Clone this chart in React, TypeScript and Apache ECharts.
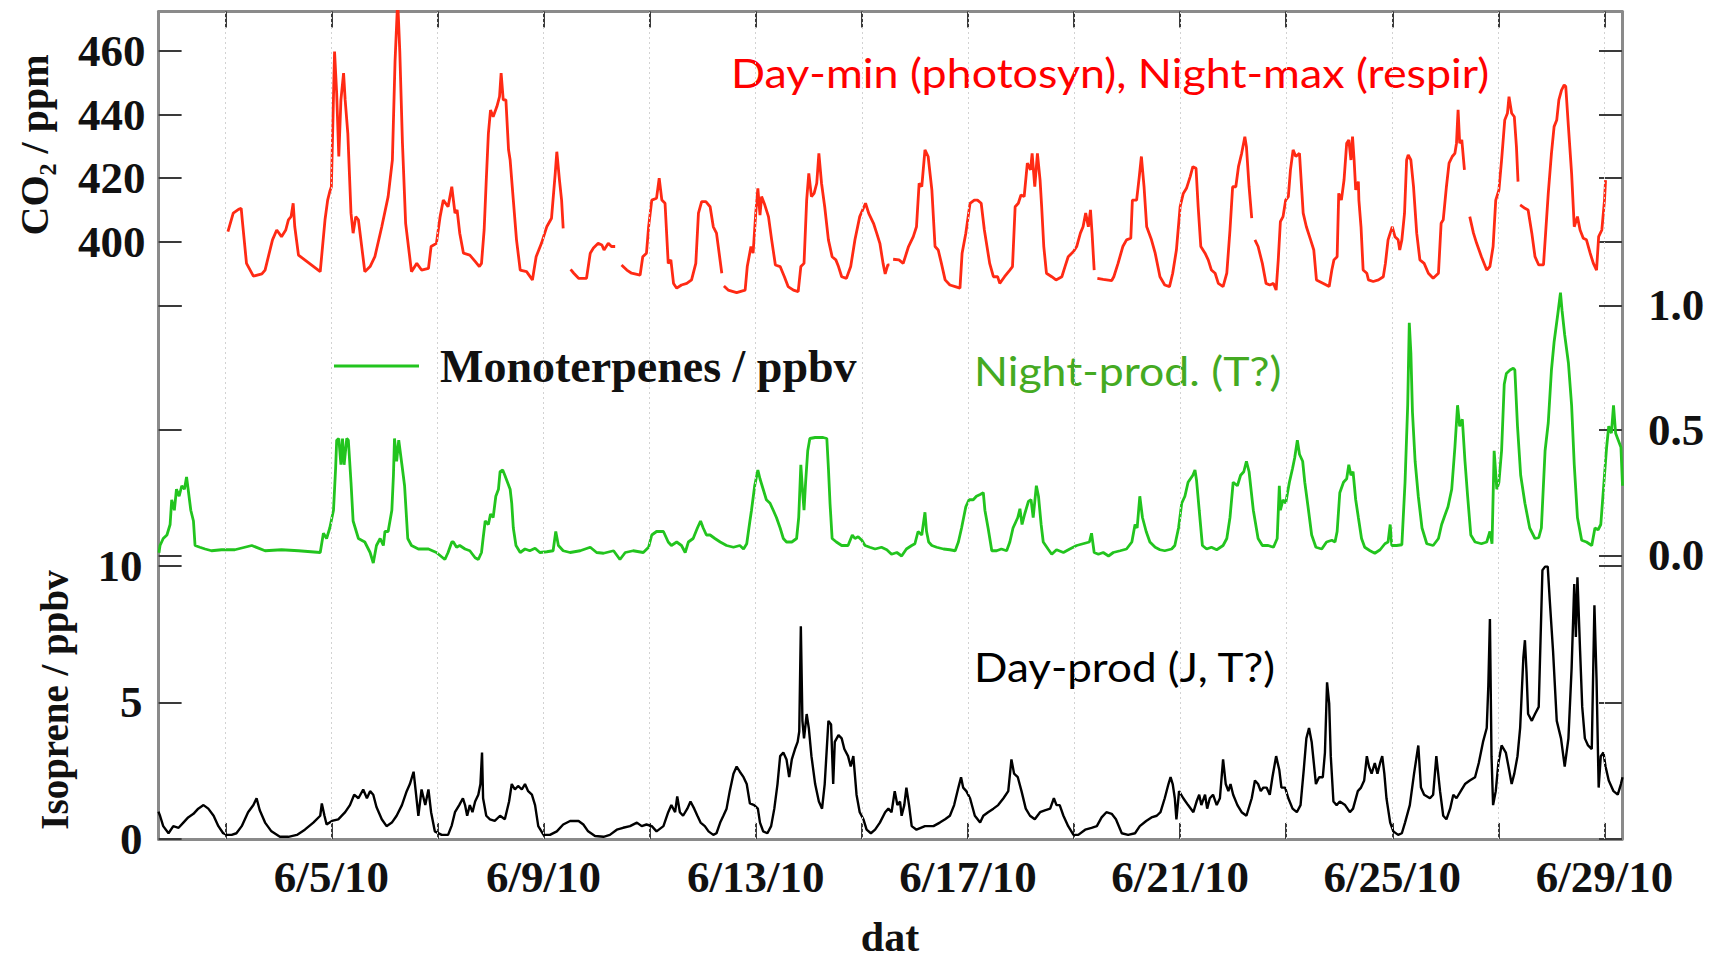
import { useEffect, useRef } from 'react';
import * as echarts from 'echarts';

// ---------- axis extents (day of June 2010, fractional) ----------
const xMinDay = 1.743;
const xMaxDay = 29.33;
const dayTicks = [3, 5, 7, 9, 11, 13, 15, 17, 19, 21, 23, 25, 27, 29];
const dayLabels = [5, 9, 13, 17, 21, 25, 29];

const co2Min = 212.2;
const co2Max = 472.4;
const co2TickValues = [380, 400, 420, 440, 460];
const co2LabelValues = [400, 420, 440, 460];

const monoMin = -1.135;
const monoMax = 2.175;
const monoTickValues = [0, 0.5, 1.0];

const isoMin = 0;
const isoMax = 30.26;
const isoTickValues = [0, 5, 10];

// ---------- CO2 / ppm (null = gap) ----------
const co2Days = [
  3.05, 3.15, 3.25, 3.30, 3.32, 3.40, 3.53, 3.69, 3.75, 3.89, 3.97, 4.06, 4.14, 4.19, 4.24, 4.28, 4.31, 4.38, 4.79, 4.88,
  4.93, 4.97, 5.00, 5.06, 5.10, 5.14, 5.18, 5.23, 5.26, 5.31, 5.37, 5.41, 5.46, 5.51, 5.63, 5.73, 5.82, 5.95, 6.07, 6.15,
  6.20, 6.25, 6.29, 6.34, 6.40, 6.51, 6.61, 6.70, 6.83, 6.88, 6.98, 7.05, 7.11, 7.20, 7.27, 7.33, 7.37, 7.42, 7.49, 7.61,
  7.71, 7.79, 7.83, 7.88, 7.92, 7.96, 8.00, 8.05, 8.12, 8.17, 8.20, 8.24, 8.29, 8.34, 8.37, 8.43, 8.49, 8.56, 8.68, 8.79,
  8.86, 8.96, 9.06, 9.15, 9.22, 9.25, 9.30, 9.34, 9.37, 9.44, 9.51, 9.57, 9.66, 9.81, 9.88, 9.94, 10.03, 10.10, 10.14, 10.22,
  10.28, 10.35, 10.41, 10.47, 10.57, 10.66, 10.82, 10.87, 10.94, 10.98, 11.04, 11.13, 11.18, 11.23, 11.29, 11.35, 11.40, 11.45, 11.51, 11.60,
  11.70, 11.79, 11.87, 11.92, 11.98, 12.06, 12.14, 12.20, 12.26, 12.36, 12.38, 12.40, 12.48, 12.64, 12.80, 12.84, 12.91, 12.95, 13.00, 13.04,
  13.08, 13.11, 13.17, 13.24, 13.30, 13.37, 13.46, 13.54, 13.61, 13.71, 13.80, 13.85, 13.91, 13.96, 14.00, 14.05, 14.10, 14.15, 14.19, 14.24,
  14.30, 14.37, 14.44, 14.51, 14.56, 14.62, 14.71, 14.79, 14.87, 14.96, 15.07, 15.13, 15.22, 15.28, 15.34, 15.40, 15.44, 15.49, 15.52, 15.55,
  15.59, 15.70, 15.78, 15.88, 15.97, 16.03, 16.08, 16.13, 16.19, 16.25, 16.32, 16.38, 16.44, 16.50, 16.57, 16.66, 16.76, 16.85, 16.89, 16.96,
  17.04, 17.12, 17.18, 17.25, 17.31, 17.41, 17.48, 17.56, 17.60, 17.69, 17.79, 17.84, 17.89, 17.95, 18.00, 18.06, 18.12, 18.18, 18.21, 18.26,
  18.31, 18.36, 18.39, 18.43, 18.48, 18.58, 18.66, 18.77, 18.83, 18.89, 18.99, 19.05, 19.12, 19.17, 19.22, 19.27, 19.31, 19.34, 19.38, 19.41,
  19.44, 19.55, 19.71, 19.75, 19.83, 19.92, 19.99, 20.07, 20.10, 20.18, 20.23, 20.27, 20.32, 20.37, 20.46, 20.53, 20.62, 20.71, 20.80, 20.86,
  20.93, 21.00, 21.06, 21.12, 21.19, 21.24, 21.30, 21.34, 21.39, 21.47, 21.53, 21.59, 21.66, 21.72, 21.81, 21.88, 21.94, 21.99, 22.05, 22.10,
  22.16, 22.22, 22.25, 22.30, 22.35, 22.38, 22.41, 22.47, 22.55, 22.62, 22.69, 22.76, 22.81, 22.85, 22.89, 22.94, 22.99, 23.04, 23.08, 23.13,
  23.18, 23.25, 23.32, 23.38, 23.46, 23.52, 23.57, 23.70, 23.81, 23.86, 23.90, 23.96, 23.99, 24.04, 24.09, 24.14, 24.18, 24.22, 24.25, 24.28,
  24.31, 24.36, 24.37, 24.41, 24.45, 24.52, 24.55, 24.64, 24.74, 24.83, 24.87, 24.92, 24.96, 25.00, 25.05, 25.11, 25.14, 25.18, 25.23, 25.27,
  25.30, 25.35, 25.40, 25.46, 25.52, 25.60, 25.68, 25.77, 25.87, 25.92, 25.96, 26.02, 26.07, 26.13, 26.18, 26.21, 26.24, 26.27, 26.31, 26.36,
  26.41, 26.46, 26.53, 26.59, 26.68, 26.78, 26.84, 26.90, 26.95, 27.01, 27.06, 27.12, 27.17, 27.20, 27.25, 27.30, 27.34, 27.37, 27.39, 27.41,
  27.50, 27.56, 27.63, 27.69, 27.76, 27.85, 27.89, 27.94, 28.00, 28.05, 28.10, 28.14, 28.19, 28.24, 28.27, 28.32, 28.38, 28.43, 28.49, 28.54,
  28.60, 28.66, 28.73, 28.79, 28.85, 28.89, 28.95, 29.00, 29.02,
];
const co2Values = [
  403.2, 409.0, 410.2, 410.5, 406.9, 393.2, 389.2, 389.9, 391.1, 400.6, 403.7, 401.6, 403.7, 406.9, 407.9, 412.1, 404.7, 395.8, 390.6, 406.9,
  413.1, 415.8, 417.3, 459.8, 446.7, 426.8, 444.6, 453.0, 444.6, 434.1, 409.0, 402.7, 407.9, 406.9, 390.6, 392.2, 395.3, 404.7, 414.2, 425.7,
  456.6, 476.0, 459.8, 431.0, 405.8, 390.6, 393.2, 391.1, 391.6, 398.5, 399.5, 407.9, 413.1, 411.0, 417.3, 409.0, 410.0, 402.7, 396.4, 395.8,
  393.8, 392.2, 393.2, 403.7, 419.4, 434.1, 441.4, 439.3, 442.5, 445.6, 453.0, 444.6, 444.6, 428.9, 425.7, 413.1, 400.6, 391.1, 390.6, 388.0,
  395.3, 399.5, 404.7, 407.4, 421.5, 428.3, 419.4, 413.1, 404.2, null, 391.3, 390.1, 388.5, 388.5, 396.4, 398.0, 399.5, 399.0, 397.4, 399.5,
  398.5, 398.5, null, 392.7, 391.1, 390.1, 389.5, 395.3, 396.4, 404.7, 413.1, 413.7, 420.0, 413.1, 412.1, 393.2, 394.3, 386.9, 385.4, 386.4,
  386.9, 388.0, 393.2, 409.0, 412.6, 412.6, 411.0, 404.7, 402.7, 390.1, null, 386.1, 384.8, 384.0, 384.8, 392.2, 398.5, 396.4, 409.0, 416.8,
  408.4, 414.2, 411.6, 407.9, 400.6, 392.7, 392.2, 389.0, 385.9, 384.8, 384.3, 392.2, 393.2, 413.1, 421.5, 414.2, 415.2, 418.4, 427.8, 418.4,
  411.0, 400.6, 395.3, 394.3, 392.2, 389.0, 388.5, 392.2, 400.6, 407.9, 412.1, 408.9, 405.8, 402.7, 399.5, 393.2, 389.9, 392.7, 392.7, null,
  394.5, 394.3, 393.2, 398.5, 401.6, 404.7, 418.4, 417.3, 428.9, 426.8, 416.3, 398.5, 397.4, 393.2, 388.0, 386.4, 385.9, 385.4, 396.4, 402.7,
  412.1, 413.1, 413.1, 412.1, 403.7, 393.2, 389.0, 389.0, 386.9, 389.0, 391.1, 392.2, 411.0, 412.1, 414.7, 414.2, 424.7, 422.6, 427.8, 417.3,
  427.8, 419.4, 411.0, 398.5, 390.1, 389.0, 388.0, 389.0, 392.2, 395.3, 396.9, 398.5, 402.7, 404.7, 409.0, 404.7, 410.0, 402.7, 391.1, null,
  388.5, 388.2, 387.8, 389.0, 393.2, 398.5, 400.6, 401.1, 413.1, 413.1, 420.5, 426.8, 417.3, 404.7, 400.6, 396.4, 389.0, 386.4, 385.9, 390.1,
  397.4, 411.0, 415.2, 416.8, 420.5, 423.6, 423.1, 411.0, 398.5, 396.4, 394.3, 391.1, 390.1, 386.9, 385.9, 390.1, 403.7, 417.3, 417.3, 423.6,
  427.8, 433.0, 429.9, 417.3, 407.4, null, 400.6, 398.5, 393.2, 386.9, 386.4, 386.9, 384.8, 394.3, 406.3, 407.9, 413.1, 414.2, 422.6, 428.9,
  426.8, 427.8, 409.0, 404.7, 400.6, 397.4, 388.0, 386.9, 385.9, 391.1, 394.3, 395.3, 415.2, 413.1, 419.4, 431.0, 432.0, 425.7, 433.1, 425.7,
  416.3, 418.9, 413.1, 404.7, 391.1, 390.1, 388.0, 387.5, 388.0, 389.0, 393.2, 400.6, 402.7, 404.7, 401.6, 400.6, 397.4, 400.6, 408.9, 425.7,
  427.3, 425.7, 417.3, 402.7, 394.3, 393.2, 390.1, 388.5, 390.1, 405.8, 406.9, 417.3, 424.7, 426.8, 427.8, 431.0, 441.5, 431.0, 432.0, 422.6,
  null, 407.9, 402.7, 399.5, 395.3, 391.1, 392.2, 398.5, 413.1, 416.3, 425.7, 438.3, 440.4, 445.6, 440.4, 439.3, 429.9, 418.9, null, 411.6,
  410.5, 410.0, 402.7, 395.3, 392.7, 392.7, 402.7, 415.2, 427.8, 436.2, 438.3, 444.6, 447.7, 449.3, 448.8, 436.2, 421.5, 404.7, 407.9, 403.7,
  401.1, 400.6, 396.4, 393.2, 391.1, 401.6, 403.7, 413.1, 419.4,
];

// ---------- Monoterpenes / ppbv ----------
const monoDays = [
  1.75, 1.77, 1.83, 1.90, 1.96, 1.99, 2.04, 2.08, 2.13, 2.18, 2.23, 2.27, 2.30, 2.35, 2.40, 2.43, 2.52, 2.62, 2.74, 2.93,
  3.18, 3.50, 3.75, 4.06, 4.38, 4.79, 4.85, 4.91, 4.97, 5.04, 5.08, 5.10, 5.14, 5.18, 5.21, 5.24, 5.29, 5.32, 5.37, 5.41,
  5.51, 5.63, 5.73, 5.79, 5.85, 5.92, 5.98, 6.01, 6.07, 6.14, 6.17, 6.19, 6.23, 6.27, 6.33, 6.38, 6.44, 6.51, 6.64, 6.83,
  6.98, 7.14, 7.20, 7.27, 7.30, 7.36, 7.42, 7.52, 7.61, 7.71, 7.77, 7.83, 7.86, 7.90, 7.96, 8.00, 8.05, 8.10, 8.15, 8.18,
  8.23, 8.27, 8.32, 8.37, 8.40, 8.43, 8.48, 8.56, 8.65, 8.74, 8.84, 8.93, 9.06, 9.18, 9.23, 9.28, 9.37, 9.50, 9.69, 9.88,
  10.00, 10.13, 10.32, 10.44, 10.54, 10.69, 10.88, 10.98, 11.04, 11.13, 11.26, 11.35, 11.41, 11.51, 11.60, 11.67, 11.73, 11.82, 11.90, 11.96,
  12.01, 12.07, 12.14, 12.23, 12.33, 12.45, 12.58, 12.70, 12.77, 12.83, 12.89, 12.92, 12.98, 13.04, 13.08, 13.14, 13.20, 13.27, 13.33, 13.39,
  13.46, 13.52, 13.58, 13.68, 13.77, 13.81, 13.85, 13.88, 13.91, 13.94, 13.98, 14.02, 14.12, 14.27, 14.34, 14.37, 14.40, 14.44, 14.52, 14.62,
  14.74, 14.82, 14.87, 14.93, 15.00, 15.06, 15.15, 15.25, 15.37, 15.47, 15.56, 15.66, 15.75, 15.84, 15.94, 16.00, 16.06, 16.13, 16.19, 16.22,
  16.26, 16.32, 16.41, 16.54, 16.66, 16.76, 16.82, 16.88, 16.96, 17.02, 17.10, 17.16, 17.23, 17.29, 17.32, 17.38, 17.45, 17.54, 17.63, 17.73,
  17.79, 17.85, 17.94, 17.98, 18.02, 18.07, 18.14, 18.19, 18.23, 18.29, 18.33, 18.38, 18.42, 18.51, 18.58, 18.67, 18.80, 18.92, 19.05, 19.17,
  19.29, 19.33, 19.38, 19.46, 19.55, 19.65, 19.74, 19.87, 19.99, 20.09, 20.15, 20.19, 20.24, 20.29, 20.36, 20.43, 20.53, 20.62, 20.71, 20.84,
  20.90, 20.97, 21.03, 21.09, 21.15, 21.24, 21.28, 21.31, 21.36, 21.42, 21.50, 21.59, 21.69, 21.81, 21.88, 21.94, 22.00, 22.08, 22.14, 22.20,
  22.25, 22.30, 22.38, 22.47, 22.55, 22.66, 22.76, 22.83, 22.87, 22.89, 22.94, 22.99, 23.06, 23.12, 23.16, 23.21, 23.25, 23.31, 23.35, 23.42,
  23.48, 23.56, 23.67, 23.76, 23.86, 23.92, 23.96, 24.01, 24.08, 24.14, 24.18, 24.22, 24.26, 24.31, 24.36, 24.42, 24.48, 24.58, 24.67, 24.77,
  24.86, 24.92, 24.96, 24.99, 25.08, 25.18, 25.24, 25.29, 25.32, 25.35, 25.38, 25.43, 25.49, 25.56, 25.65, 25.77, 25.87, 25.93, 26.00, 26.05,
  26.12, 26.18, 26.23, 26.27, 26.32, 26.37, 26.42, 26.48, 26.56, 26.68, 26.78, 26.84, 26.88, 26.92, 26.97, 27.01, 27.06, 27.11, 27.15, 27.22,
  27.28, 27.31, 27.36, 27.42, 27.50, 27.59, 27.69, 27.76, 27.81, 27.88, 27.94, 28.00, 28.05, 28.12, 28.17, 28.20, 28.25, 28.32, 28.38, 28.43,
  28.49, 28.57, 28.66, 28.76, 28.82, 28.88, 28.93, 28.98, 29.04, 29.08, 29.13, 29.17, 29.21, 29.26, 29.31, 29.34,
];
const monoValues = [
  0.01, 0.039, 0.067, 0.081, 0.123, 0.222, 0.18, 0.264, 0.236, 0.278, 0.264, 0.313, 0.264, 0.18, 0.137, 0.039, 0.032, 0.025, 0.018, 0.022,
  0.022, 0.039, 0.018, 0.022, 0.018, 0.011, 0.088, 0.067, 0.109, 0.18, 0.348, 0.46, 0.467, 0.362, 0.467, 0.362, 0.467, 0.46, 0.292, 0.137,
  0.067, 0.053, 0.011, -0.031, 0.039, 0.067, 0.039, 0.095, 0.095, 0.18, 0.32, 0.467, 0.376, 0.46, 0.362, 0.278, 0.067, 0.039, 0.025, 0.025,
  0.011, -0.017, 0.011, 0.053, 0.053, 0.032, 0.039, 0.025, 0.018, -0.01, -0.017, 0.011, 0.067, 0.137, 0.123, 0.165, 0.151, 0.236, 0.264, 0.334,
  0.341, 0.32, 0.292, 0.264, 0.208, 0.109, 0.039, 0.011, 0.025, 0.018, 0.028, 0.011, 0.014, 0.018, 0.095, 0.039, 0.018, 0.011, 0.018, 0.032,
  0.011, 0.008, 0.018, -0.017, 0.011, 0.018, 0.011, 0.032, 0.081, 0.095, 0.095, 0.053, 0.039, 0.053, 0.039, 0.011, 0.053, 0.067, 0.109, 0.137,
  0.109, 0.081, 0.081, 0.067, 0.053, 0.039, 0.032, 0.039, 0.025, 0.046, 0.137, 0.18, 0.278, 0.341, 0.306, 0.264, 0.222, 0.208, 0.18, 0.151,
  0.109, 0.067, 0.053, 0.053, 0.067, 0.151, 0.362, 0.264, 0.18, 0.292, 0.418, 0.467, 0.471, 0.471, 0.467, 0.348, 0.208, 0.067, 0.053, 0.039,
  0.039, 0.081, 0.067, 0.074, 0.06, 0.039, 0.032, 0.025, 0.032, 0.022, 0.004, 0.011, -0.003, 0.025, 0.039, 0.046, 0.095, 0.081, 0.172, 0.095,
  0.053, 0.039, 0.032, 0.025, 0.022, 0.018, 0.053, 0.109, 0.194, 0.222, 0.222, 0.236, 0.243, 0.25, 0.18, 0.109, 0.018, 0.018, 0.025, 0.018,
  0.053, 0.109, 0.151, 0.186, 0.123, 0.165, 0.215, 0.222, 0.151, 0.278, 0.236, 0.123, 0.053, 0.025, 0.004, 0.022, 0.011, 0.025, 0.039, 0.046,
  0.053, 0.088, 0.011, 0.004, 0.011, -0.003, 0.011, 0.018, 0.025, 0.053, 0.123, 0.109, 0.236, 0.151, 0.095, 0.053, 0.032, 0.022, 0.018, 0.025,
  0.039, 0.109, 0.208, 0.236, 0.292, 0.32, 0.341, 0.299, 0.18, 0.039, 0.025, 0.032, 0.022, 0.039, 0.067, 0.151, 0.292, 0.278, 0.32, 0.334,
  0.376, 0.334, 0.18, 0.067, 0.039, 0.039, 0.032, 0.067, 0.278, 0.18, 0.222, 0.208, 0.292, 0.348, 0.39, 0.46, 0.404, 0.376, 0.292, 0.18,
  0.081, 0.032, 0.025, 0.053, 0.06, 0.053, 0.095, 0.25, 0.292, 0.306, 0.362, 0.32, 0.334, 0.222, 0.151, 0.067, 0.032, 0.018, 0.008, 0.022,
  0.046, 0.053, 0.123, 0.039, 0.039, 0.042, 0.292, 0.6, 0.93, 0.81, 0.572, 0.376, 0.236, 0.109, 0.046, 0.039, 0.067, 0.123, 0.165, 0.194,
  0.264, 0.432, 0.6, 0.516, 0.544, 0.376, 0.236, 0.081, 0.053, 0.046, 0.053, 0.095, 0.046, 0.418, 0.264, 0.292, 0.418, 0.684, 0.727, 0.741,
  0.748, 0.741, 0.516, 0.32, 0.208, 0.109, 0.067, 0.07, 0.109, 0.418, 0.53, 0.741, 0.853, 0.965, 1.05, 0.979, 0.881, 0.769, 0.6, 0.362,
  0.151, 0.06, 0.053, 0.039, 0.109, 0.102, 0.123, 0.264, 0.432, 0.516, 0.488, 0.6, 0.488, 0.46, 0.432, 0.278,
];

// ---------- Isoprene / ppbv ----------
const isoDays = [
  1.74, 1.77, 1.83, 1.93, 2.02, 2.12, 2.21, 2.30, 2.40, 2.49, 2.59, 2.68, 2.78, 2.87, 2.96, 3.03, 3.12, 3.21, 3.31, 3.43,
  3.53, 3.59, 3.65, 3.75, 3.87, 4.03, 4.19, 4.35, 4.50, 4.66, 4.79, 4.82, 4.87, 4.91, 5.01, 5.13, 5.26, 5.35, 5.43, 5.51,
  5.60, 5.67, 5.73, 5.79, 5.85, 5.95, 6.04, 6.14, 6.23, 6.33, 6.42, 6.48, 6.55, 6.59, 6.64, 6.70, 6.77, 6.83, 6.88, 6.95,
  7.08, 7.20, 7.27, 7.33, 7.41, 7.48, 7.52, 7.56, 7.61, 7.66, 7.71, 7.77, 7.81, 7.84, 7.86, 7.92, 7.99, 8.08, 8.18, 8.27,
  8.35, 8.40, 8.46, 8.52, 8.59, 8.65, 8.71, 8.78, 8.84, 8.90, 9.00, 9.12, 9.25, 9.37, 9.50, 9.66, 9.75, 9.84, 9.97, 10.13,
  10.25, 10.38, 10.50, 10.63, 10.76, 10.85, 10.94, 11.04, 11.13, 11.26, 11.35, 11.41, 11.48, 11.52, 11.57, 11.63, 11.71, 11.77, 11.84, 11.90,
  11.96, 12.04, 12.11, 12.20, 12.26, 12.33, 12.39, 12.45, 12.51, 12.58, 12.64, 12.70, 12.77, 12.83, 12.89, 12.97, 13.04, 13.08, 13.14, 13.22,
  13.29, 13.35, 13.41, 13.46, 13.52, 13.58, 13.63, 13.68, 13.74, 13.79, 13.82, 13.85, 13.88, 13.91, 13.96, 14.00, 14.05, 14.12, 14.19, 14.25,
  14.30, 14.37, 14.42, 14.46, 14.49, 14.56, 14.62, 14.67, 14.74, 14.79, 14.84, 14.90, 14.96, 15.03, 15.09, 15.17, 15.25, 15.34, 15.44, 15.50,
  15.56, 15.62, 15.67, 15.72, 15.75, 15.80, 15.84, 15.89, 15.94, 16.03, 16.19, 16.35, 16.47, 16.57, 16.66, 16.74, 16.82, 16.87, 16.91, 16.97,
  17.04, 17.13, 17.23, 17.29, 17.38, 17.48, 17.57, 17.67, 17.76, 17.82, 17.87, 17.94, 18.01, 18.09, 18.17, 18.26, 18.36, 18.45, 18.55, 18.62,
  18.67, 18.73, 18.80, 18.89, 18.99, 19.08, 19.21, 19.33, 19.43, 19.52, 19.61, 19.71, 19.79, 19.90, 20.02, 20.15, 20.24, 20.36, 20.46, 20.56,
  20.63, 20.71, 20.78, 20.82, 20.86, 20.90, 20.93, 20.98, 21.06, 21.15, 21.25, 21.31, 21.36, 21.40, 21.47, 21.51, 21.56, 21.62, 21.69, 21.75,
  21.81, 21.86, 21.91, 21.95, 22.00, 22.08, 22.16, 22.25, 22.35, 22.41, 22.47, 22.52, 22.57, 22.63, 22.69, 22.74, 22.81, 22.87, 22.91, 22.98,
  23.04, 23.12, 23.20, 23.27, 23.33, 23.38, 23.43, 23.48, 23.52, 23.56, 23.62, 23.69, 23.73, 23.77, 23.81, 23.84, 23.89, 23.95, 24.01, 24.11,
  24.20, 24.26, 24.35, 24.41, 24.47, 24.52, 24.56, 24.61, 24.67, 24.72, 24.77, 24.81, 24.85, 24.89, 24.96, 25.02, 25.11, 25.18, 25.24, 25.33,
  25.41, 25.49, 25.54, 25.60, 25.71, 25.77, 25.83, 25.90, 25.96, 26.02, 26.09, 26.15, 26.21, 26.29, 26.37, 26.46, 26.56, 26.63, 26.71, 26.78,
  26.81, 26.84, 26.87, 26.90, 26.95, 27.00, 27.06, 27.14, 27.19, 27.25, 27.30, 27.36, 27.41, 27.47, 27.50, 27.53, 27.56, 27.63, 27.69, 27.76,
  27.83, 27.88, 27.93, 27.97, 28.03, 28.10, 28.18, 28.25, 28.32, 28.38, 28.43, 28.46, 28.49, 28.54, 28.58, 28.63, 28.69, 28.76, 28.81, 28.85,
  28.89, 28.93, 28.98, 29.02, 29.08, 29.17, 29.25, 29.31, 29.34,
];
const isoValues = [
  1.0, 0.85, 0.47, 0.21, 0.47, 0.41, 0.6, 0.79, 0.92, 1.11, 1.24, 1.11, 0.85, 0.47, 0.21, 0.15, 0.15, 0.21, 0.47, 0.98,
  1.24, 1.49, 1.05, 0.6, 0.28, 0.08, 0.08, 0.15, 0.34, 0.6, 0.85, 1.3, 0.85, 0.53, 0.66, 0.72, 0.98, 1.24, 1.62, 1.49,
  1.81, 1.49, 1.75, 1.62, 1.17, 0.72, 0.47, 0.6, 0.85, 1.24, 1.75, 2.01, 2.46, 1.75, 0.85, 1.81, 1.24, 1.81, 0.98, 0.28,
  0.15, 0.15, 0.5, 0.98, 1.24, 1.49, 1.24, 0.85, 1.24, 0.98, 1.37, 1.62, 2.01, 3.16, 1.49, 0.85, 0.72, 0.66, 0.85, 0.72,
  1.37, 2.01, 1.81, 1.94, 1.81, 2.01, 1.75, 1.62, 1.24, 0.47, 0.15, 0.15, 0.28, 0.53, 0.66, 0.66, 0.53, 0.28, 0.11, 0.08,
  0.15, 0.34, 0.41, 0.47, 0.6, 0.47, 0.53, 0.47, 0.28, 0.47, 0.98, 1.24, 0.98, 1.56, 0.98, 0.85, 1.11, 1.37, 1.11, 0.85,
  0.6, 0.47, 0.28, 0.15, 0.21, 0.6, 0.85, 1.11, 1.75, 2.39, 2.65, 2.46, 2.26, 2.01, 1.3, 1.24, 1.11, 0.6, 0.28, 0.21,
  0.47, 1.11, 2.01, 3.03, 3.16, 2.91, 2.26, 2.91, 3.29, 3.55, 3.93, 7.78, 4.32, 3.68, 4.57, 4.06, 3.03, 2.01, 1.37, 1.11,
  2.01, 4.32, 4.19, 2.01, 3.55, 3.8, 3.68, 3.29, 3.03, 2.65, 3.03, 1.62, 0.98, 0.72, 0.34, 0.21, 0.34, 0.6, 0.98, 1.11,
  0.98, 1.75, 1.24, 1.37, 0.85, 1.24, 1.88, 1.24, 0.47, 0.34, 0.47, 0.47, 0.6, 0.72, 0.85, 1.24, 1.88, 2.26, 1.88, 1.75,
  1.49, 0.85, 0.6, 0.85, 0.98, 1.11, 1.24, 1.49, 1.75, 2.91, 2.39, 2.26, 1.75, 1.11, 0.85, 0.72, 0.98, 1.05, 1.11, 1.49,
  1.24, 1.24, 0.85, 0.47, 0.15, 0.15, 0.34, 0.41, 0.47, 0.79, 0.98, 0.92, 0.72, 0.21, 0.15, 0.21, 0.47, 0.66, 0.79, 0.85,
  0.98, 1.49, 2.01, 2.26, 2.01, 1.49, 0.72, 1.75, 1.49, 1.24, 0.98, 1.37, 1.62, 1.24, 1.62, 1.11, 1.49, 1.62, 1.24, 1.49,
  2.91, 2.01, 1.75, 2.01, 1.62, 1.24, 0.98, 0.85, 1.49, 2.14, 2.01, 1.75, 1.88, 1.88, 1.62, 2.26, 3.03, 2.52, 1.88, 1.88,
  1.49, 1.11, 0.98, 1.24, 2.52, 3.68, 4.06, 3.55, 2.78, 2.01, 2.26, 2.26, 3.16, 5.73, 4.96, 3.03, 1.37, 1.24, 1.37, 1.24,
  0.98, 1.11, 1.75, 1.88, 2.14, 3.03, 2.65, 2.39, 2.78, 2.39, 2.78, 3.03, 2.39, 1.49, 0.6, 0.28, 0.15, 0.21, 0.6, 1.24,
  2.39, 3.42, 1.88, 1.62, 1.49, 1.62, 3.03, 1.75, 0.85, 0.72, 1.11, 1.62, 1.49, 1.75, 2.01, 2.14, 2.26, 2.78, 3.55, 4.06,
  5.6, 8.04, 3.03, 1.24, 1.75, 2.78, 3.42, 3.16, 2.65, 2.01, 2.39, 3.03, 4.06, 6.62, 7.27, 6.11, 4.57, 4.32, 4.57, 4.83,
  9.83, 9.96, 9.96, 8.68, 6.88, 4.32, 3.68, 2.65, 3.68, 6.24, 9.32, 7.39, 9.57, 6.88, 4.83, 3.68, 3.42, 3.29, 8.55, 5.86,
  1.88, 3.03, 3.16, 2.65, 2.14, 1.75, 1.62, 2.01, 2.26,
];

const SERIF = "'Liberation Serif', 'Times New Roman', serif";
const SANS = "Lato, 'Open Sans', sans-serif";
const FRAME = '#8a8a8a';
const TICK = '#3a3a3a';
const LABEL = '#111111';

const zip = (xs: number[], ys: (number | null)[]) =>
  xs.map((x, i) => [x, ys[i] === null ? '-' : ys[i]]);

export default function App() {
  const ref = useRef<HTMLDivElement>(null);

  useEffect(() => {
    if (!ref.current) return;
    const chart = echarts.init(ref.current, null, { renderer: 'svg' });

    const labelFont = { fontFamily: SERIF, fontWeight: 'bold' as const, fontSize: 45, color: LABEL };
    const tickOnly = (pos: 'left' | 'right', min: number, max: number, vals: number[]) => ({
      type: 'value', gridIndex: 0, position: pos, min, max,
      axisLine: { show: false },
      axisTick: { show: true, inside: true, length: 23, customValues: vals, lineStyle: { color: TICK, width: 2 } },
      axisLabel: { show: false },
      splitLine: { show: false },
    });

    const option: any = {
      animation: false,
      backgroundColor: '#ffffff',
      grid: { left: 158.6, right: 93, top: 11.5, bottom: 123, containLabel: false },
      legend: {
        show: true,
        data: ['Monoterpenes / ppbv'],
        left: 329,
        top: 338,
        icon: 'rect',
        itemWidth: 85,
        itemHeight: 3,
        itemGap: 0,
        textStyle: { fontFamily: SERIF, fontWeight: 'bold', fontSize: 46, color: LABEL, padding: [0, 0, 0, 16] },
        selectedMode: false,
      },
      xAxis: [
        {
          type: 'value', gridIndex: 0, position: 'bottom', min: xMinDay, max: xMaxDay,
          axisLine: { show: true, onZero: false, lineStyle: { color: FRAME, width: 3 } },
          axisTick: { show: true, inside: true, length: 16, customValues: dayTicks, lineStyle: { color: TICK, width: 2 } },
          axisLabel: {
            show: true, customValues: dayLabels, margin: 15, ...labelFont,
            formatter: (v: number) => `6/${Math.round(v)}/10`,
          },
          splitLine: { show: false },
        },
        {
          type: 'value', gridIndex: 0, position: 'top', min: xMinDay, max: xMaxDay,
          axisLine: { show: true, onZero: false, lineStyle: { color: FRAME, width: 3 } },
          axisTick: { show: true, inside: true, length: 16, customValues: dayTicks, lineStyle: { color: TICK, width: 2 } },
          axisLabel: { show: false },
          splitLine: { show: false },
        },
      ],
      yAxis: [
        {
          type: 'value', gridIndex: 0, position: 'left', min: co2Min, max: co2Max,
          axisLine: { show: true, onZero: false, lineStyle: { color: FRAME, width: 3 } },
          axisTick: { show: true, inside: true, length: 23, customValues: co2TickValues, lineStyle: { color: TICK, width: 2 } },
          axisLabel: { show: true, customValues: co2LabelValues, margin: 13, ...labelFont },
          splitLine: { show: false },
        },
        {
          type: 'value', gridIndex: 0, position: 'right', min: co2Min, max: co2Max,
          axisLine: { show: true, onZero: false, lineStyle: { color: FRAME, width: 3 } },
          axisTick: { show: true, inside: true, length: 23, customValues: co2TickValues, lineStyle: { color: TICK, width: 2 } },
          axisLabel: { show: false },
          splitLine: { show: false },
        },
        {
          type: 'value', gridIndex: 0, position: 'right', min: monoMin, max: monoMax,
          axisLine: { show: false },
          axisTick: { show: true, inside: true, length: 23, customValues: monoTickValues, lineStyle: { color: TICK, width: 2 } },
          axisLabel: {
            show: true, customValues: monoTickValues, margin: 26, ...labelFont,
            formatter: (v: number) => v.toFixed(1),
          },
          splitLine: { show: false },
        },
        tickOnly('left', monoMin, monoMax, monoTickValues),
        {
          type: 'value', gridIndex: 0, position: 'left', min: isoMin, max: isoMax,
          axisLine: { show: false },
          axisTick: { show: true, inside: true, length: 23, customValues: isoTickValues, lineStyle: { color: TICK, width: 2 } },
          axisLabel: { show: true, customValues: isoTickValues, margin: 16, ...labelFont },
          splitLine: { show: false },
        },
        tickOnly('right', isoMin, isoMax, isoTickValues),
      ],
      series: [
        {
          name: 'grid-days', type: 'line', xAxisIndex: 0, yAxisIndex: 0, data: [], z: 1, silent: true,
          markLine: {
            silent: true, symbol: ['none', 'none'], label: { show: false },
            lineStyle: { type: [2, 3], color: '#d2d2d2', width: 1 },
            emphasis: { disabled: true },
            data: dayTicks.map((d) => ({ xAxis: d })),
          },
        },
        {
          name: 'CO2 / ppm', type: 'line', xAxisIndex: 0, yAxisIndex: 0, z: 3,
          data: zip(co2Days, co2Values), showSymbol: false, symbol: 'none', connectNulls: false,
          lineStyle: { color: '#ff2a14', width: 2.8 }, itemStyle: { color: '#ff2a14' }, clip: true,
        },
        {
          name: 'Monoterpenes / ppbv', type: 'line', xAxisIndex: 0, yAxisIndex: 2, z: 3,
          data: zip(monoDays, monoValues), showSymbol: false, symbol: 'none',
          lineStyle: { color: '#22c41e', width: 2.8 }, itemStyle: { color: '#22c41e' }, clip: true,
        },
        {
          name: 'Isoprene / ppbv', type: 'line', xAxisIndex: 0, yAxisIndex: 4, z: 3,
          data: zip(isoDays, isoValues), showSymbol: false, symbol: 'none',
          lineStyle: { color: '#000000', width: 2.4 }, itemStyle: { color: '#000000' }, clip: true,
        },
      ],
      graphic: [
        {
          type: 'text', x: 34, y: 145, rotation: Math.PI / 2, silent: true,
          style: { text: 'CO₂ / ppm', fontFamily: SERIF, fontWeight: 'bold', fontSize: 40, fill: LABEL, align: 'center', verticalAlign: 'middle' },
        },
        {
          type: 'text', x: 54, y: 700, rotation: Math.PI / 2, silent: true,
          style: { text: 'Isoprene / ppbv', fontFamily: SERIF, fontWeight: 'bold', fontSize: 39, fill: LABEL, align: 'center', verticalAlign: 'middle' },
        },
        {
          type: 'text', x: 890, y: 937, silent: true,
          style: { text: 'dat', fontFamily: SERIF, fontWeight: 'bold', fontSize: 42, lineHeight: 34, fill: LABEL, align: 'center', verticalAlign: 'middle' },
        },
        {
          type: 'text', x: 731, y: 72, scaleX: 1.12, silent: true,
          style: { text: 'Day-min (photosyn), Night-max (respir)', fontFamily: SANS, fontSize: 40, fill: '#ff0000', align: 'left', verticalAlign: 'middle' },
        },
        {
          type: 'text', x: 974, y: 370, scaleX: 1.115, silent: true,
          style: { text: 'Night-prod. (T?)', fontFamily: SANS, fontSize: 40, fill: '#44aa22', align: 'left', verticalAlign: 'middle' },
        },
        {
          type: 'text', x: 974, y: 667, scaleX: 1.1, silent: true,
          style: { text: 'Day-prod (J, T?)', fontFamily: SANS, fontSize: 40, fill: '#000000', align: 'left', verticalAlign: 'middle' },
        },
      ],
    };

    chart.setOption(option);
    return () => chart.dispose();
  }, []);

  return (
    <div
      ref={ref}
      style={{ position: 'fixed', left: 0, top: 0, width: 1715, height: 962, background: '#ffffff' }}
    />
  );
}
